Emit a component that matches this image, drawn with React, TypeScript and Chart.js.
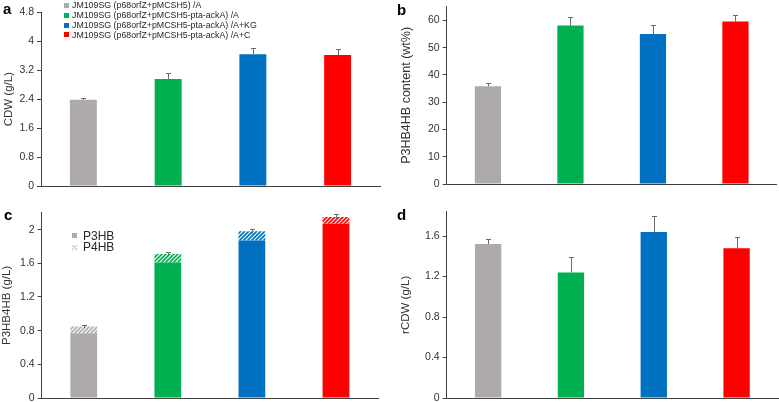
import React, { useEffect, useRef } from 'react';
import { Chart, registerables } from 'chart.js';

Chart.register(...registerables);

// ---------- data ----------
const categories = [
  'JM109SG (p68orfZ+pMCSH5) /A',
  'JM109SG (p68orfZ+pMCSH5-pta-ackA) /A',
  'JM109SG (p68orfZ+pMCSH5-pta-ackA) /A+KG',
  'JM109SG (p68orfZ+pMCSH5-pta-ackA) /A+C',
];
const barColors = ['#AEAAAA', '#00B050', '#0070C0', '#FF0000'];

const cdw = [2.38, 2.96, 3.64, 3.62];
const cdwErr = [0.04, 0.16, 0.16, 0.17];

const content = [35.8, 58.1, 55.0, 59.6];
const contentErr = [1.2, 3.0, 3.2, 2.3];

const p3hb = [0.77, 1.61, 1.87, 2.07];
const p4hb = [0.08, 0.1, 0.11, 0.08];
const p3hb4hbErr = [0.02, 0.02, 0.03, 0.04];

const rcdw = [1.52, 1.24, 1.64, 1.48];
const rcdwErr = [0.05, 0.15, 0.16, 0.11];

const FONT = "'Liberation Sans', Arial, sans-serif";
const AXIS = '#404040';
const TICK_TEXT = '#333333';
const ERR = '#6b6b6b';

function hatch(color: string): CanvasPattern | string {
  const c = document.createElement('canvas');
  c.width = 4;
  c.height = 4;
  const g = c.getContext('2d');
  if (!g) return color;
  g.fillStyle = '#ffffff';
  g.fillRect(0, 0, 4, 4);
  g.strokeStyle = color;
  g.lineWidth = 1.6;
  g.beginPath();
  g.moveTo(-1, 5);
  g.lineTo(5, -1);
  g.moveTo(-3, 3);
  g.lineTo(3, -3);
  g.moveTo(1, 7);
  g.lineTo(7, 1);
  g.stroke();
  const p = g.createPattern(c, 'repeat');
  return p || color;
}

function makeErrPlugin(tops: number[], errs: number[], both: boolean) {
  return {
    id: 'errorBars',
    afterDatasetsDraw(chart: any) {
      const { ctx } = chart;
      const xs = chart.scales.x;
      const ys = chart.scales.y;
      ctx.save();
      ctx.strokeStyle = ERR;
      ctx.lineWidth = 1;
      tops.forEach((v, i) => {
        const px = Math.round(xs.getPixelForValue(i)) + 0.5;
        const yTop = Math.round(ys.getPixelForValue(v + errs[i])) + 0.5;
        const yBot = ys.getPixelForValue(both ? v - errs[i] : v);
        ctx.beginPath();
        ctx.moveTo(px, yBot);
        ctx.lineTo(px, yTop);
        ctx.moveTo(px - 2.5, yTop);
        ctx.lineTo(px + 2.5, yTop);
        ctx.stroke();
      });
      ctx.restore();
    },
  };
}

const fmt = (v: number | string) => String(Math.round(Number(v) * 10) / 10);

interface PanelCfg {
  w: number;
  h: number;
  area: { l: number; r: number; t: number; b: number };
  datasets: any[];
  stacked: boolean;
  max: number;
  step: number;
  title: string;
  titleSize: number;
  titlePad: number;
  tops: number[];
  errs: number[];
  both: boolean;
}

function build(canvas: HTMLCanvasElement, cfg: PanelCfg) {
  return new Chart(canvas, {
    type: 'bar',
    data: { labels: categories, datasets: cfg.datasets },
    plugins: [makeErrPlugin(cfg.tops, cfg.errs, cfg.both)],
    options: {
      responsive: false,
      animation: false,
      devicePixelRatio: 1,
      layout: {
        padding: {
          left: 0,
          right: cfg.w - cfg.area.r,
          top: cfg.area.t,
          bottom: cfg.h - cfg.area.b,
        },
      },
      plugins: {
        legend: { display: false },
        tooltip: { enabled: false },
      },
      scales: {
        x: {
          stacked: cfg.stacked,
          grid: { display: false },
          ticks: { display: false },
          border: { display: true, color: AXIS, width: 1 },
          afterFit: (s: any) => {
            s.height = 0;
            s.paddingLeft = 0;
            s.paddingRight = 0;
          },
        },
        y: {
          stacked: cfg.stacked,
          min: 0,
          max: cfg.max,
          ticks: {
            stepSize: cfg.step,
            includeBounds: false,
            padding: 3,
            color: TICK_TEXT,
            font: { family: FONT, size: 10.5 },
            callback: (v: any) => fmt(v),
          },
          grid: {
            display: true,
            drawOnChartArea: false,
            drawTicks: true,
            tickLength: 4,
            color: AXIS,
          },
          border: { display: true, color: AXIS, width: 1 },
          title: {
            display: true,
            text: cfg.title,
            color: TICK_TEXT,
            font: { family: FONT, size: cfg.titleSize },
            padding: { top: cfg.titlePad, bottom: 0 },
          },
          afterFit: (s: any) => {
            s.width = cfg.area.l;
            s.paddingTop = 0;
            s.paddingBottom = 0;
          },
        },
      },
    } as any,
  });
}

function singleDataset(values: number[]) {
  return [
    {
      data: values,
      backgroundColor: barColors,
      borderWidth: 0,
      categoryPercentage: 1,
      barPercentage: 0.318,
    },
  ];
}

export default function App() {
  const aRef = useRef<HTMLCanvasElement>(null);
  const bRef = useRef<HTMLCanvasElement>(null);
  const cRef = useRef<HTMLCanvasElement>(null);
  const dRef = useRef<HTMLCanvasElement>(null);

  useEffect(() => {
    const charts: Chart[] = [];
    if (aRef.current) {
      charts.push(
        build(aRef.current, {
          w: 390, h: 200,
          area: { l: 41, r: 380, t: 12.3, b: 186 },
          datasets: singleDataset(cdw),
          stacked: false, max: 4.8, step: 0.8,
          title: 'CDW (g/L)', titleSize: 11.5, titlePad: 2,
          tops: cdw, errs: cdwErr, both: false,
        })
      );
    }
    if (bRef.current) {
      charts.push(
        build(bRef.current, {
          w: 389, h: 200,
          area: { l: 56.7, r: 386.7, t: 6.7, b: 184 },
          datasets: singleDataset(content),
          stacked: false, max: 65, step: 10,
          title: 'P3HB4HB content (wt%)', titleSize: 12.5, titlePad: 9,
          tops: content, errs: contentErr, both: false,
        })
      );
    }
    if (cRef.current) {
      const totals = p3hb.map((v, i) => v + p4hb[i]);
      charts.push(
        build(cRef.current, {
          w: 390, h: 202,
          area: { l: 41.7, r: 378, t: 12.8, b: 198 },
          datasets: [
            {
              label: 'P3HB',
              data: p3hb,
              backgroundColor: barColors,
              borderWidth: 0,
              categoryPercentage: 1,
              barPercentage: 0.318,
            },
            {
              label: 'P4HB',
              data: p4hb,
              backgroundColor: barColors.map((c) => hatch(c)),
              borderWidth: 0,
              categoryPercentage: 1,
              barPercentage: 0.318,
            },
          ],
          stacked: true, max: 2.2, step: 0.4,
          title: 'P3HB4HB (g/L)', titleSize: 11.5, titlePad: 0,
          tops: totals, errs: p3hb4hbErr, both: true,
        })
      );
    }
    if (dRef.current) {
      charts.push(
        build(dRef.current, {
          w: 389, h: 202,
          area: { l: 56.7, r: 388, t: 11.7, b: 198 },
          datasets: singleDataset(rcdw),
          stacked: false, max: 1.84, step: 0.4,
          title: 'rCDW (g/L)', titleSize: 11.5, titlePad: 9,
          tops: rcdw, errs: rcdwErr, both: false,
        })
      );
    }
    return () => charts.forEach((c) => c.destroy());
  }, []);

  const abs = (l: number, t: number, w: number, h: number): React.CSSProperties => ({
    position: 'absolute', left: l, top: t, width: w, height: h,
  });
  const letter = (l: number, t: number): React.CSSProperties => ({
    position: 'absolute', left: l, top: t, fontFamily: FONT, fontWeight: 'bold',
    fontSize: 15, lineHeight: '15px', color: '#000',
  });

  const legendRows = [5, 15, 25, 34.5];

  return (
    <div style={{ position: 'fixed', left: 0, top: 0, width: 779, height: 402, background: '#fff', overflow: 'hidden' }}>
      <canvas ref={aRef} width={390} height={200} style={abs(0, 0, 390, 200)} />
      <canvas ref={bRef} width={389} height={200} style={abs(390, 0, 389, 200)} />
      <canvas ref={cRef} width={390} height={202} style={abs(0, 200, 390, 202)} />
      <canvas ref={dRef} width={389} height={202} style={abs(390, 200, 389, 202)} />

      <div style={letter(3, 0.6)}>a</div>
      <div style={letter(397, 2.3)}>b</div>
      <div style={letter(4, 207.3)}>c</div>
      <div style={letter(397, 207.3)}>d</div>

      {categories.map((c, i) => (
        <div key={c} style={{ position: 'absolute', left: 63.5, top: legendRows[i] - 5, height: 10, display: 'flex', alignItems: 'center', fontFamily: FONT, fontSize: 8.8, color: '#262626', whiteSpace: 'nowrap' }}>
          <span style={{ display: 'inline-block', width: 5, height: 5, background: barColors[i], marginRight: 3.5 }} />
          <span>{c}</span>
        </div>
      ))}

      <div style={{ position: 'absolute', left: 72, top: 229.5, height: 12, display: 'flex', alignItems: 'center', fontFamily: FONT, fontSize: 12, color: '#262626' }}>
        <span style={{ display: 'inline-block', width: 5, height: 5, background: barColors[0], marginRight: 6 }} />
        <span>P3HB</span>
      </div>
      <div style={{ position: 'absolute', left: 72, top: 241, height: 12, display: 'flex', alignItems: 'center', fontFamily: FONT, fontSize: 12, color: '#262626' }}>
        <span style={{ display: 'inline-block', width: 5, height: 5, marginRight: 6, background: 'repeating-linear-gradient(135deg, #ffffff 0px, #ffffff 1px, #AEAAAA 1px, #AEAAAA 2px)' }} />
        <span>P4HB</span>
      </div>
    </div>
  );
}
